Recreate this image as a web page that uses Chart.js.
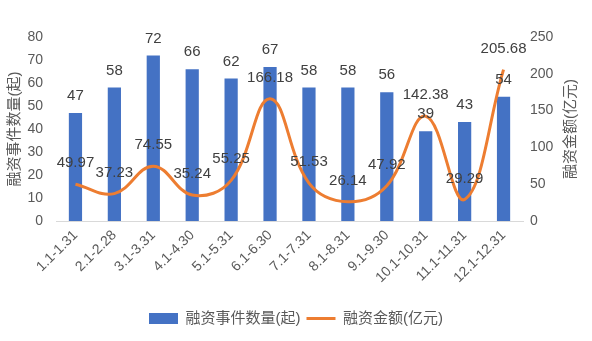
<!DOCTYPE html>
<html>
<head>
<meta charset="utf-8">
<script src="https://cdn.jsdelivr.net/npm/chart.js@4"></script>
<style>
  html, body { margin: 0; padding: 0; background: #fff; }
  #wrap { width: 592px; height: 341px; }
</style>
</head>
<body>
<div id="wrap"><canvas id="graph1" width="592" height="341"></canvas></div>
<script>
const months = ["1.1-1.31", "2.1-2.28", "3.1-3.31", "4.1-4.30", "5.1-5.31", "6.1-6.30",
  "7.1-7.31", "8.1-8.31", "9.1-9.30", "10.1-10.31", "11.1-11.31", "12.1-12.31"];
const eventCount = [47, 58, 72, 66, 62, 67, 58, 58, 56, 39, 43, 54];
const amount = [49.97, 37.23, 74.55, 35.24, 55.25, 166.18, 51.53, 26.14, 47.92, 142.38, 29.29, 205.68];
const leftTicks = [0, 10, 20, 30, 40, 50, 60, 70, 80];
const rightTicks = [0, 50, 100, 150, 200, 250];
const leftTitle = "融资事件数量(起)";
const rightTitle = "融资金额(亿元)";

const FONT = "'Liberation Sans', 'Noto Sans CJK SC', sans-serif";
const grey = "#595959";

// value labels above bars and line points, plus both axis titles
const valueLabels = {
  id: "valueLabels",
  afterDatasetsDraw(chart) {
    const ctx = chart.ctx;
    ctx.save();
    ctx.font = "15px " + FONT;
    ctx.fillStyle = "#404040";
    ctx.textAlign = "center";
    ctx.textBaseline = "middle";
    chart.data.datasets.forEach(function(ds, i) {
      const meta = chart.getDatasetMeta(i);
      meta.data.forEach(function(el, j) {
        const gap = ds.type == "bar" ? 17 : 21;
        ctx.fillText(String(ds.data[j]), el.x, el.y - gap);
      });
    });
    ctx.restore();
  },
  afterDraw(chart) {
    const ctx = chart.ctx;
    const midY = (chart.chartArea.top + chart.chartArea.bottom) / 2;
    ctx.save();
    ctx.font = "15px " + FONT;
    ctx.fillStyle = grey;
    ctx.textAlign = "center";
    ctx.textBaseline = "middle";
    [[15, leftTitle], [571, rightTitle]].forEach(function(t) {
      ctx.save();
      ctx.translate(t[0], midY);
      ctx.rotate(-Math.PI / 2);
      ctx.fillText(t[1], 0, 0);
      ctx.restore();
    });
    ctx.restore();
  }
};

const ctx = document.getElementById("graph1");
new Chart(ctx, {
  data: {
    labels: months,
    datasets: [{
      type: "bar",
      label: leftTitle,
      data: eventCount,
      backgroundColor: "#4472C4",
      yAxisID: "y",
      order: 1,
      barPercentage: 0.68,
      categoryPercentage: 0.5
    }, {
      type: "line",
      label: rightTitle,
      data: amount,
      borderColor: "#ED7D31",
      backgroundColor: "#ED7D31",
      borderWidth: 3,
      pointRadius: 0,
      tension: 0.4,
      yAxisID: "y1",
      order: 0
    }]
  },
  options: {
    responsive: false,
    animation: false,
    layout: { padding: { left: 0, right: 0, top: 37, bottom: 5 } },
    plugins: {
      tooltip: { enabled: false },
      legend: {
        position: "bottom",
        labels: {
          color: grey,
          font: { size: 15, family: FONT },
          usePointStyle: true,
          pointStyleWidth: 29,
          boxHeight: 11,
          padding: 6,
          generateLabels: function(chart) {
            return chart.data.datasets.map(function(ds, i) {
              return {
                text: ds.label,
                fillStyle: ds.type == "bar" ? "#4472C4" : "#ED7D31",
                strokeStyle: ds.type == "bar" ? "#4472C4" : "#ED7D31",
                lineWidth: ds.type == "bar" ? 0 : 3,
                pointStyle: ds.type == "bar" ? "rect" : "line",
                fontColor: grey,
                datasetIndex: i
              };
            });
          }
        }
      }
    },
    scales: {
      x: {
        grid: { display: false, drawTicks: false },
        border: { color: "#D9D9D9", width: 1 },
        afterFit: function(axis) { axis.height = 84; },
        ticks: {
          color: grey,
          font: { size: 14, family: FONT },
          maxRotation: 45,
          minRotation: 45,
          padding: 6
        }
      },
      y: {
        position: "left",
        min: 0,
        max: 80,
        afterBuildTicks: function(axis) { axis.ticks = leftTicks.map(v => ({ value: v })); },
        afterFit: function(axis) { axis.width = 56; },
        grid: { display: false, drawTicks: false },
        border: { display: false },
        ticks: { color: grey, font: { size: 14, family: FONT }, padding: 13 }
      },
      y1: {
        position: "right",
        min: 0,
        max: 250,
        afterBuildTicks: function(axis) { axis.ticks = rightTicks.map(v => ({ value: v })); },
        afterFit: function(axis) { axis.width = 69; },
        grid: { display: false, drawTicks: false },
        border: { display: false },
        ticks: { color: grey, font: { size: 14, family: FONT }, padding: 7 }
      }
    }
  },
  plugins: [valueLabels]
});
</script>
</body>
</html>
